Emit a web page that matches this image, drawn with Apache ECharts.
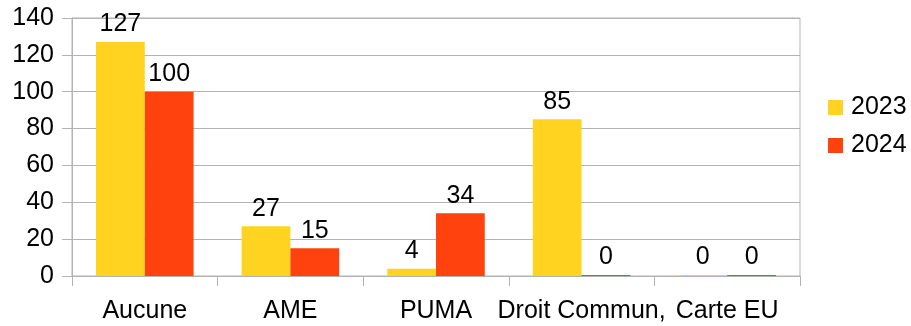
<!DOCTYPE html>
<html>
<head>
<meta charset="utf-8">
<script src="https://cdn.jsdelivr.net/npm/echarts@6/dist/echarts.min.js"></script>
<style>
  html, body { margin: 0; padding: 0; background: #ffffff; }
  #chart { width: 911px; height: 326px; }
</style>
</head>
<body>
<div id="chart"></div>
<script>
const categories = ["Aucune", "AME", "PUMA", "Droit Commun,", "Carte EU"];
const values2023 = [127, 27, 4, 85, 0];
const values2024 = [100, 15, 34, 0, 0];
const seriesNames = ["2023", "2024"];
const yTicks = [0, 20, 40, 60, 80, 100, 120, 140];

const FONT = '"Liberation Sans", Arial, sans-serif';
const FONT_SIZE = 25;
const GRID_GRAY = '#b3b3b3';

const chart = echarts.init(document.getElementById('chart'), null, { renderer: 'canvas' });

const labelStyle = {
  show: true,
  position: 'top',
  distance: 5,
  color: '#000000',
  fontFamily: FONT,
  fontSize: FONT_SIZE
};

chart.setOption({
  animation: false,
  backgroundColor: '#ffffff',
  grid: {
    left: 72, right: 111, top: 18, bottom: 50,
    show: true, borderColor: GRID_GRAY, borderWidth: 1, backgroundColor: 'transparent'
  },
  legend: {
    orient: 'vertical',
    left: 823,
    top: 90,
    itemWidth: 15,
    itemHeight: 15,
    itemGap: 13,
    icon: 'rect',
    textStyle: { color: '#000000', fontFamily: FONT, fontSize: FONT_SIZE, padding: [0, 0, 0, 3] },
    data: seriesNames
  },
  xAxis: {
    type: 'category',
    data: categories,
    axisLine: { show: true, lineStyle: { color: GRID_GRAY, width: 1 } },
    axisTick: { show: true, length: 10, alignWithLabel: false, lineStyle: { color: GRID_GRAY } },
    axisLabel: { interval: 0, hideOverlap: false, margin: 23, color: '#000000', fontFamily: FONT, fontSize: FONT_SIZE },
    splitLine: { show: false }
  },
  yAxis: {
    type: 'value',
    min: yTicks[0],
    max: yTicks[yTicks.length - 1],
    interval: 20,
    axisLine: { show: true, lineStyle: { color: GRID_GRAY, width: 1 } },
    axisTick: { show: true, length: 10, lineStyle: { color: GRID_GRAY } },
    axisLabel: { margin: 18, color: '#000000', fontFamily: FONT, fontSize: FONT_SIZE },
    splitLine: { show: true, lineStyle: { color: GRID_GRAY, width: 1 } }
  },
  series: [
    {
      name: seriesNames[0],
      type: 'bar',
      data: values2023,
      itemStyle: { color: '#ffd320' },
      barGap: '0%',
      barCategoryGap: '33%',
      barMinHeight: 1,
      z: 3,
      label: labelStyle
    },
    {
      name: seriesNames[1],
      type: 'bar',
      data: values2024,
      itemStyle: { color: '#ff420e' },
      barGap: '0%',
      barCategoryGap: '33%',
      barMinHeight: 1,
      z: 3,
      label: labelStyle
    }
  ]
});
</script>
</body>
</html>
